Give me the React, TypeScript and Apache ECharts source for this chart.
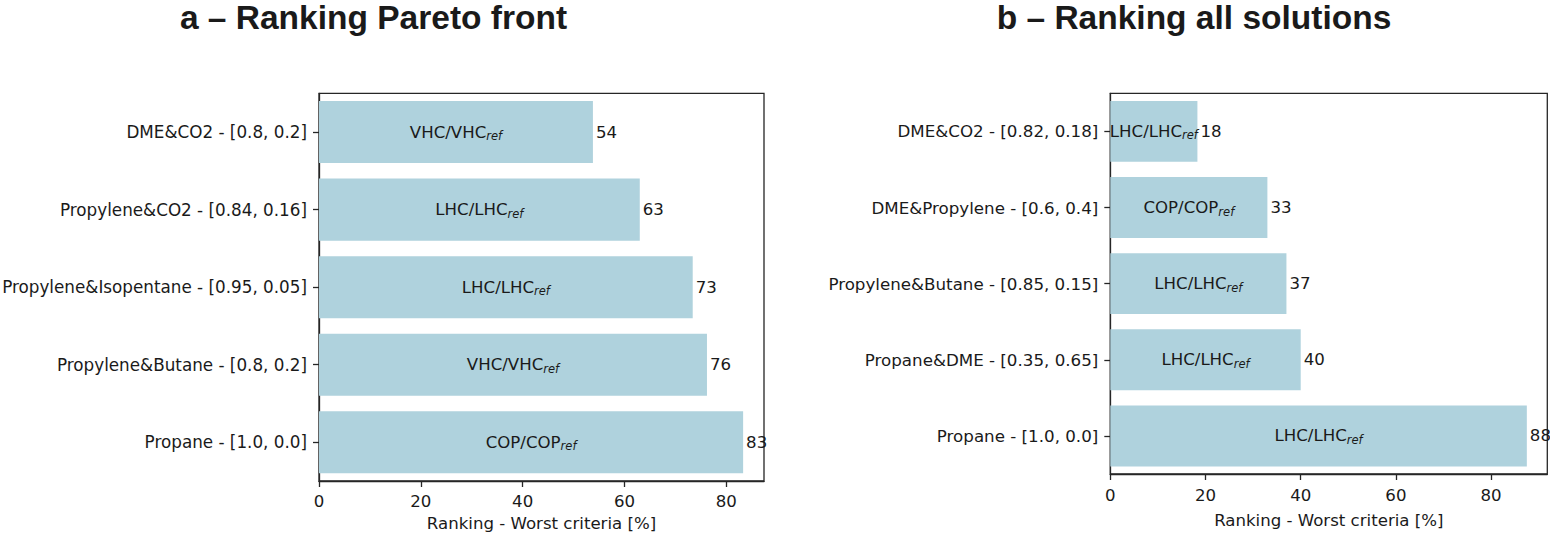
import React, { useEffect, useRef } from "react";
import * as echarts from "echarts";

// ---- data ----
const titleA = "a \u2013 Ranking Pareto front";
const titleB = "b \u2013 Ranking all solutions";
const axisName = "Ranking - Worst criteria [%]";

const categoriesA = [
  "DME&CO2 - [0.8, 0.2]",
  "Propylene&CO2 - [0.84, 0.16]",
  "Propylene&Isopentane - [0.95, 0.05]",
  "Propylene&Butane - [0.8, 0.2]",
  "Propane - [1.0, 0.0]",
];
const valuesA = [53.8, 63.0, 73.4, 76.2, 83.3];
const criteriaA = ["VHC", "LHC", "LHC", "VHC", "COP"];

const categoriesB = [
  "DME&CO2 - [0.82, 0.18]",
  "DME&Propylene - [0.6, 0.4]",
  "Propylene&Butane - [0.85, 0.15]",
  "Propane&DME - [0.35, 0.65]",
  "Propane - [1.0, 0.0]",
];
const valuesB = [18.3, 33.0, 37.0, 40.0, 87.5];
const criteriaB = ["LHC", "COP", "LHC", "LHC", "LHC"];

const xTicks = [0, 20, 40, 60, 80];
const xMaxA = 87.4;
const xMaxB = 91.8;

// ---- style ----
const FONT = "DejaVu Sans";
const TEXT = "#1a1a1a";
const SPINE = "#262626";
const BAR = "#AFD2DD";
const FS = 16.6;

function makeXAxis(gridIndex: number, max: number, labelMargin: number, nameGap: number) {
  return {
    type: "value",
    gridIndex,
    min: 0,
    max,
    interval: 20,
    name: axisName,
    nameLocation: "middle",
    nameGap,
    nameTextStyle: { fontFamily: FONT, fontSize: FS, color: TEXT },
    axisLine: { show: true, lineStyle: { color: SPINE, width: 1.3 } },
    axisTick: { show: true, length: 6, lineStyle: { color: SPINE, width: 1.3 }, customValues: xTicks },
    axisLabel: { fontFamily: FONT, fontSize: FS, color: TEXT, margin: labelMargin, customValues: xTicks },
    splitLine: { show: false },
  };
}

function makeYAxis(gridIndex: number, cats: string[], fs: number) {
  return {
    type: "category",
    gridIndex,
    data: cats,
    inverse: true,
    axisLine: { show: true, lineStyle: { color: SPINE, width: 1.3 } },
    axisTick: { show: true, alignWithLabel: true, length: 6, lineStyle: { color: SPINE, width: 1.3 } },
    axisLabel: { fontFamily: FONT, fontSize: fs, color: TEXT, margin: 12 },
    splitLine: { show: false },
  };
}

const rich = {
  m: { fontFamily: FONT, fontSize: FS, color: TEXT, lineHeight: 20 },
  s: { fontFamily: FONT, fontSize: 11.5, fontStyle: "italic", color: TEXT, lineHeight: 14, padding: [8, 0, 0, 0] },
};

function makeSeries(idx: number, values: number[], crit: string[]) {
  return [
    {
      type: "bar",
      xAxisIndex: idx,
      yAxisIndex: idx,
      data: values,
      barWidth: "80%",
      barGap: "-100%",
      itemStyle: { color: BAR },
      label: {
        show: true,
        position: "inside",
        formatter: (p: any) => `{m|${crit[p.dataIndex]}/${crit[p.dataIndex]}}{s|ref}`,
        rich,
      },
      emphasis: { disabled: true },
      silent: true,
    },
    {
      type: "bar",
      xAxisIndex: idx,
      yAxisIndex: idx,
      data: values,
      barWidth: "80%",
      barGap: "-100%",
      itemStyle: { color: "rgba(0,0,0,0)" },
      label: {
        show: true,
        position: "right",
        distance: 3,
        fontFamily: FONT,
        fontSize: FS,
        color: TEXT,
        formatter: (p: any) => `${Math.round(p.value)}`,
      },
      emphasis: { disabled: true },
      silent: true,
    },
  ];
}

export default function App() {
  const ref = useRef<HTMLDivElement>(null);

  useEffect(() => {
    if (!ref.current) return;
    const chart = echarts.init(ref.current, null, { renderer: "svg" });
    const titleStyle = {
      fontFamily: "Liberation Sans",
      fontWeight: "bold" as const,
      fontSize: 33.5,
      color: "#1a1a1a",
    };
    chart.setOption({
      animation: false,
      backgroundColor: "#ffffff",
      title: [
        { text: titleA, left: 373.5, top: 0, padding: 0, textAlign: "center", textStyle: titleStyle },
        { text: titleB, left: 1194, top: 0, padding: 0, textAlign: "center", textStyle: titleStyle },
      ],
      grid: [
        { left: 319, right: 1550 - 764, top: 93.3, bottom: 533 - 481, show: true, borderColor: SPINE, borderWidth: 1.3, backgroundColor: "transparent", outerBoundsMode: "none", containLabel: false },
        { left: 1110.3, right: 1550 - 1547.3, top: 93.3, bottom: 533 - 474, show: true, borderColor: SPINE, borderWidth: 1.3, backgroundColor: "transparent", outerBoundsMode: "none", containLabel: false },
      ],
      xAxis: [makeXAxis(0, xMaxA, 12, 34), makeXAxis(1, xMaxB, 13, 38)],
      yAxis: [makeYAxis(0, categoriesA, 16.8), makeYAxis(1, categoriesB, 16.7)],
      series: [...makeSeries(0, valuesA, criteriaA), ...makeSeries(1, valuesB, criteriaB)],
    });
    return () => chart.dispose();
  }, []);

  return (
    <div
      ref={ref}
      style={{ position: "absolute", left: 0, top: 0, width: 1550, height: 533, background: "#fff" }}
    />
  );
}
